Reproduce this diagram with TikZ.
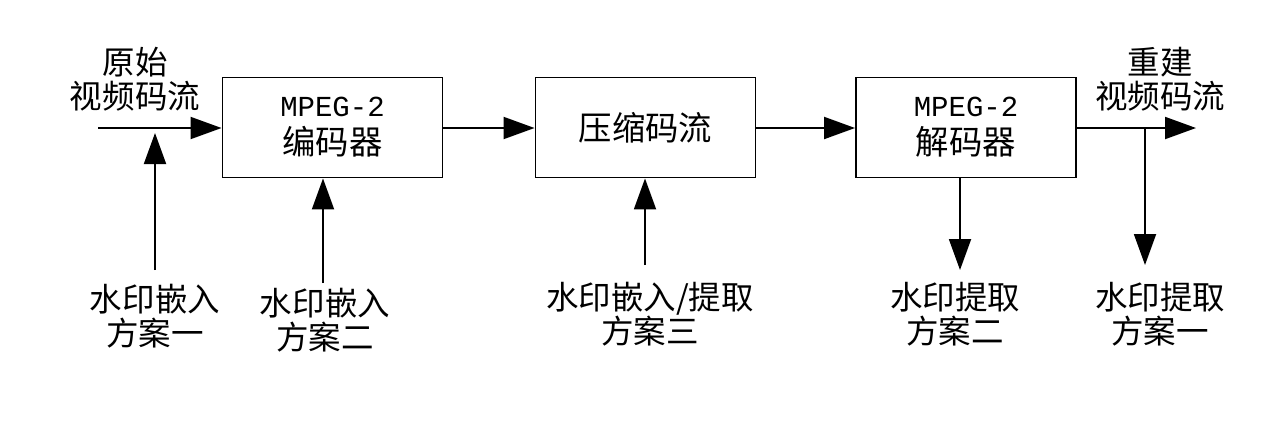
\documentclass[tikz,border=0pt]{standalone}
\usepackage{fontspec}
\setmainfont{Noto Sans CJK SC}
\newfontfamily\latinmono{Liberation Mono}
\usetikzlibrary{arrows.meta}

\begin{document}
\begin{tikzpicture}[x=0.02cm,y=-0.02cm,>={Triangle[length=0.62cm,width=0.44cm]},line width=1.1pt,
  blk/.style={draw,minimum width=4.4cm,minimum height=2cm,align=center,font=\fontsize{19}{21.5}\selectfont},
  lbl/.style={align=center,inner sep=0pt,font=\fontsize{18.5}{19.3}\selectfont}]
\useasboundingbox (0,0) rectangle (1273,424);
% processing blocks
\node[blk] (enc) at (332.5,127.5) {{\latinmono\fontsize{16.5}{21.5}\selectfont MPEG-2}\\编码器};
\node[blk] (cmp) at (645.5,127.5) {压缩码流};
\node[blk] (dec) at (966,127.5) {{\latinmono\fontsize{16.5}{21.5}\selectfont MPEG-2}\\解码器};
% stream ends
\coordinate (in) at (98,128);
\coordinate (out) at (1196,128);
\coordinate (br) at (1145,128);
\node[lbl] (src) at (135,79) {原始\\视频码流};
\node[lbl] (rec) at (1160,79) {重建\\视频码流};
\draw[->] (in) -- (in -| enc.west);
\draw[->] (enc.east |- in) -- (cmp.west |- in);
\draw[->] (cmp.east |- in) -- (dec.west |- in);
\draw[->] (dec.east |- in) -- (out);
% watermark schemes
\node[lbl] (e1) at (155,316) {水印嵌入\\方案一};
\node[lbl] (e2) at (325,320) {水印嵌入\\方案二};
\node[lbl] (e3) at (650,314) {水印嵌入/提取\\方案三};
\node[lbl] (x2) at (955,314) {水印提取\\方案二};
\node[lbl] (x1) at (1160,314) {水印提取\\方案一};
\coordinate (e1t) at (155,270);
\coordinate (e1h) at (155,133);
\coordinate (e2t) at (323,283);
\coordinate (e3t) at (645,265);
\coordinate (x2h) at (960,270);
\coordinate (x1h) at (1145,265);
\draw[->] (e1t) -- (e1h);
\draw[->] (e2t) -- (e2t |- enc.south);
\draw[->] (e3t) -- (e3t |- cmp.south);
\draw[->] (x2h |- dec.south) -- (x2h);
\draw[->] (br) -- (x1h);
\end{tikzpicture}
\end{document}
